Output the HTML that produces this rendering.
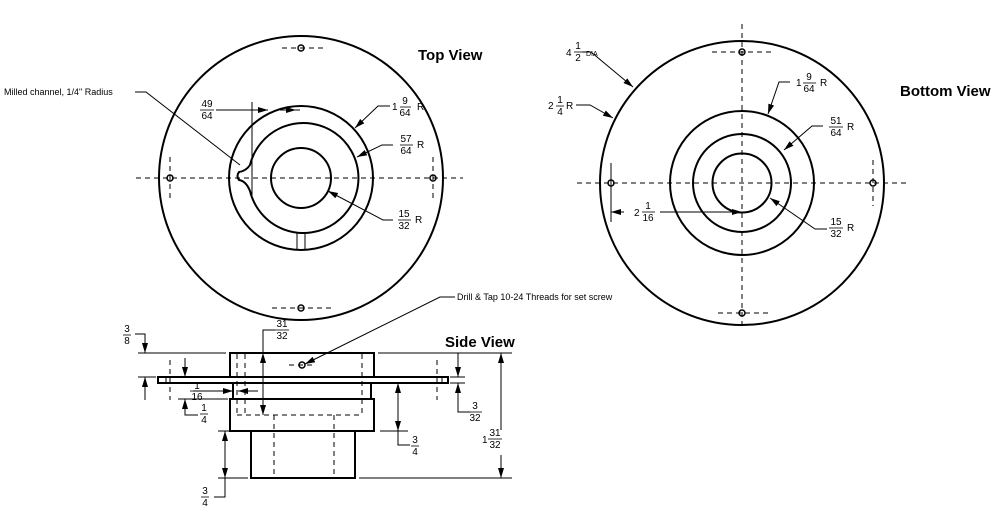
<!DOCTYPE html>
<html><head><meta charset="utf-8"><style>
html,body{margin:0;padding:0;background:#fff;}
svg{display:block;font-family:"Liberation Sans",Arial,sans-serif;}
.t{font-size:9px;}
.f{font-size:10px;text-anchor:middle;}
.h{font-size:15px;font-weight:bold;}
</style></head><body>
<svg width="1004" height="514" viewBox="0 0 1004 514" xmlns="http://www.w3.org/2000/svg">
<defs>
<marker id="a" viewBox="0 0 10 6" refX="10" refY="3" markerWidth="10" markerHeight="6" markerUnits="userSpaceOnUse" orient="auto"><path d="M0,0L10,3L0,6z" fill="#000"/></marker>
</defs>
<rect width="1004" height="514" fill="#fff"/>
<g fill="none" stroke="#000">
<!-- TOP VIEW -->
<circle cx="301" cy="178" r="142" stroke-width="2"/>
<circle cx="301" cy="178" r="72" stroke-width="2"/>
<path d="M250,165 A55,55 0 1 1 250,191 Q246,181 239,180 Q236,176 239,172 Q246,171 250,165 Z" stroke-width="2"/>
<circle cx="301" cy="178" r="30" stroke-width="2"/>
<line x1="297" y1="232" x2="297" y2="250" stroke-width="1"/>
<line x1="305" y1="232" x2="305" y2="250" stroke-width="1"/>
<g stroke-width="1" stroke-dasharray="5,4">
<line x1="136" y1="178" x2="463" y2="178"/>
<line x1="282" y1="48" x2="326" y2="48"/>
<line x1="272" y1="308" x2="332" y2="308"/>
<line x1="170" y1="157" x2="170" y2="198"/>
<line x1="433" y1="157" x2="433" y2="198"/>
</g>
<g stroke-width="1.5"><circle cx="301" cy="48" r="3"/><circle cx="301" cy="308" r="3"/><circle cx="170" cy="178" r="3"/><circle cx="433" cy="178" r="3"/></g>
<g stroke-width="1">
<line x1="252" y1="102" x2="252" y2="195"/>
<line x1="216" y1="110" x2="268" y2="110"/>
<line x1="252" y1="110" x2="268" y2="110" marker-end="url(#a)"/>
<line x1="280" y1="110" x2="300" y2="110"/>
<line x1="280" y1="110" x2="296" y2="110" marker-end="url(#a)"/>
<polyline points="135,92 146,92 240,165"/>
<polyline points="390,106 378,106 355,128" marker-end="url(#a)"/>
<polyline points="393,145 382,145 357,157" marker-end="url(#a)"/>
<polyline points="393,220 383,220 328,191" marker-end="url(#a)"/>
</g>
<!-- BOTTOM VIEW -->
<circle cx="742" cy="183" r="142" stroke-width="2"/>
<circle cx="742" cy="183" r="72" stroke-width="2"/>
<circle cx="742" cy="183" r="49" stroke-width="2"/>
<circle cx="742" cy="183" r="29.5" stroke-width="2"/>
<g stroke-width="1" stroke-dasharray="5,4">
<line x1="577" y1="183" x2="908" y2="183"/>
<line x1="742" y1="24" x2="742" y2="330"/>
<line x1="712" y1="52" x2="773" y2="52"/>
<line x1="718" y1="313" x2="770" y2="313"/>
<line x1="873" y1="160" x2="873" y2="206"/>
</g>
<g stroke-width="1.5"><circle cx="742" cy="52" r="3"/><circle cx="742" cy="313" r="3"/><circle cx="611" cy="183" r="3"/><circle cx="873" cy="183" r="3"/></g>
<g stroke-width="1">
<line x1="611" y1="163" x2="611" y2="222"/>
<line x1="624" y1="212" x2="611" y2="212" marker-end="url(#a)"/>
<line x1="660" y1="212" x2="742" y2="212" marker-end="url(#a)"/>
<polyline points="582,52 591,52 633,87" marker-end="url(#a)"/>
<polyline points="576,105 590,105 613,118" marker-end="url(#a)"/>
<polyline points="790,82 779,82 768,114" marker-end="url(#a)"/>
<polyline points="823,126 812,126 784,150" marker-end="url(#a)"/>
<polyline points="827,229 815,229 770,198" marker-end="url(#a)"/>
</g>
<!-- SIDE VIEW -->
<g stroke-width="2">
<rect x="230" y="353" width="144" height="24"/>
<rect x="158" y="377" width="290" height="6"/>
<rect x="233" y="383" width="138" height="16"/>
<rect x="230" y="399" width="144" height="32"/>
<rect x="251" y="431" width="104" height="47"/>
</g>
<g stroke-width="1" stroke-dasharray="5,4">
<line x1="237" y1="354" x2="237" y2="415"/>
<line x1="245" y1="354" x2="245" y2="415"/>
<line x1="362" y1="354" x2="362" y2="415"/>
<line x1="237" y1="415" x2="362" y2="415"/>
<line x1="274" y1="415" x2="274" y2="478"/>
<line x1="334" y1="415" x2="334" y2="478"/>
<line x1="170" y1="360" x2="170" y2="400"/>
<line x1="437" y1="360" x2="437" y2="400"/>
<line x1="289" y1="365" x2="316" y2="365"/>
</g>
<line x1="166" y1="377" x2="166" y2="383" stroke-width="1"/>
<line x1="442" y1="377" x2="442" y2="383" stroke-width="1"/>
<circle cx="302" cy="365" r="3" stroke-width="1.5"/>
<g stroke-width="1">
<polyline points="455,297 440,297 305,364" marker-end="url(#a)"/>
<line x1="138" y1="353" x2="226" y2="353"/>
<line x1="138" y1="377" x2="156" y2="377"/>
<polyline points="135,334 145,334 145,353" marker-end="url(#a)"/>
<line x1="145" y1="400" x2="145" y2="377" marker-end="url(#a)"/>
<polyline points="275,330 263,330 263,353" />
<line x1="263" y1="385" x2="263" y2="353" marker-end="url(#a)"/>
<line x1="263" y1="385" x2="263" y2="415" marker-end="url(#a)"/>
<line x1="185" y1="358" x2="185" y2="377" marker-end="url(#a)"/>
<line x1="193" y1="391" x2="233" y2="391" />
<line x1="213" y1="391" x2="233" y2="391" marker-end="url(#a)"/>
<line x1="258" y1="391" x2="238" y2="391" marker-end="url(#a)"/>
<line x1="178" y1="399" x2="228" y2="399"/>
<polyline points="198,415 185,415 185,399" marker-end="url(#a)"/>
<line x1="218" y1="431" x2="246" y2="431"/>
<line x1="218" y1="478" x2="248" y2="478"/>
<line x1="225" y1="455" x2="225" y2="431" marker-end="url(#a)"/>
<line x1="225" y1="455" x2="225" y2="478" marker-end="url(#a)"/>
<polyline points="225,478 225,497 214,497"/>
<line x1="380" y1="431" x2="408" y2="431"/>
<line x1="398" y1="407" x2="398" y2="383" marker-end="url(#a)"/>
<line x1="398" y1="407" x2="398" y2="431" marker-end="url(#a)"/>
<polyline points="398,431 398,445 410,445"/>
<line x1="378" y1="353" x2="512" y2="353"/>
<line x1="450" y1="377" x2="465" y2="377"/>
<line x1="450" y1="383" x2="465" y2="383"/>
<line x1="458" y1="353" x2="458" y2="377" marker-end="url(#a)"/>
<line x1="458" y1="398" x2="458" y2="383" marker-end="url(#a)"/>
<polyline points="458,398 458,412 470,412"/>
<line x1="359" y1="478" x2="512" y2="478"/>
<line x1="501" y1="430" x2="501" y2="353" marker-end="url(#a)"/>
<line x1="501" y1="455" x2="501" y2="478" marker-end="url(#a)"/>
</g>
</g>
<!-- TEXT -->
<g fill="#000">
<text class="h" x="418" y="60">Top View</text>
<text class="h" x="900" y="96">Bottom View</text>
<text class="h" x="445" y="347">Side View</text>
<text class="t" x="4" y="95">Milled channel, 1/4" Radius</text>
<text class="t" x="457" y="300">Drill &amp; Tap 10-24 Threads for set screw</text>
</g>
<g fill="#000" class="f">
<text x="207" y="107">49</text><text x="207" y="119">64</text>
<text x="392" y="110" style="text-anchor:start">1</text><text x="405" y="104">9</text><text x="405" y="116">64</text><text x="417" y="110" style="text-anchor:start">R</text>
<text x="406" y="142">57</text><text x="406" y="154">64</text><text x="417" y="148" style="text-anchor:start">R</text>
<text x="404" y="217">15</text><text x="404" y="229">32</text><text x="415" y="223" style="text-anchor:start">R</text>
<text x="566" y="56" style="text-anchor:start">4</text><text x="578" y="49">1</text><text x="578" y="61">2</text><text x="586" y="56" style="text-anchor:start;font-size:7px">DIA</text>
<text x="548" y="109" style="text-anchor:start">2</text><text x="560" y="103">1</text><text x="560" y="115">4</text><text x="566" y="109" style="text-anchor:start">R</text>
<text x="796" y="86" style="text-anchor:start">1</text><text x="809" y="80">9</text><text x="809" y="92">64</text><text x="820" y="86" style="text-anchor:start">R</text>
<text x="836" y="124">51</text><text x="836" y="136">64</text><text x="847" y="130" style="text-anchor:start">R</text>
<text x="836" y="225">15</text><text x="836" y="237">32</text><text x="847" y="231" style="text-anchor:start">R</text>
<text x="634" y="216" style="text-anchor:start">2</text><text x="648" y="209">1</text><text x="648" y="221">16</text>
<text x="127" y="332">3</text><text x="127" y="344">8</text>
<text x="282" y="327">31</text><text x="282" y="339">32</text>
<text x="197" y="389">1</text><text x="197" y="400">16</text>
<text x="204" y="411">1</text><text x="204" y="423">4</text>
<text x="205" y="494">3</text><text x="205" y="506">4</text>
<text x="415" y="443">3</text><text x="415" y="455">4</text>
<text x="475" y="409">3</text><text x="475" y="421">32</text>
<text x="482" y="443" style="text-anchor:start">1</text><text x="495" y="436">31</text><text x="495" y="448">32</text>
</g>
<g stroke="#000" stroke-width="0.8">
<line x1="200" y1="110" x2="214" y2="110"/>
<line x1="400" y1="107" x2="411" y2="107"/>
<line x1="400" y1="145" x2="413" y2="145"/>
<line x1="398" y1="220" x2="411" y2="220"/>
<line x1="574" y1="52" x2="582" y2="52"/>
<line x1="556" y1="106" x2="564" y2="106"/>
<line x1="803" y1="83" x2="816" y2="83"/>
<line x1="829" y1="127" x2="843" y2="127"/>
<line x1="829" y1="228" x2="843" y2="228"/>
<line x1="642" y1="212" x2="655" y2="212"/>
<line x1="123" y1="335" x2="131" y2="335"/>
<line x1="275" y1="330" x2="289" y2="330"/>
<line x1="190" y1="391" x2="204" y2="391"/>
<line x1="200" y1="414" x2="208" y2="414"/>
<line x1="201" y1="497" x2="209" y2="497"/>
<line x1="411" y1="446" x2="419" y2="446"/>
<line x1="469" y1="412" x2="482" y2="412"/>
<line x1="488" y1="439" x2="502" y2="439"/>
</g>
</svg>
</body></html>
